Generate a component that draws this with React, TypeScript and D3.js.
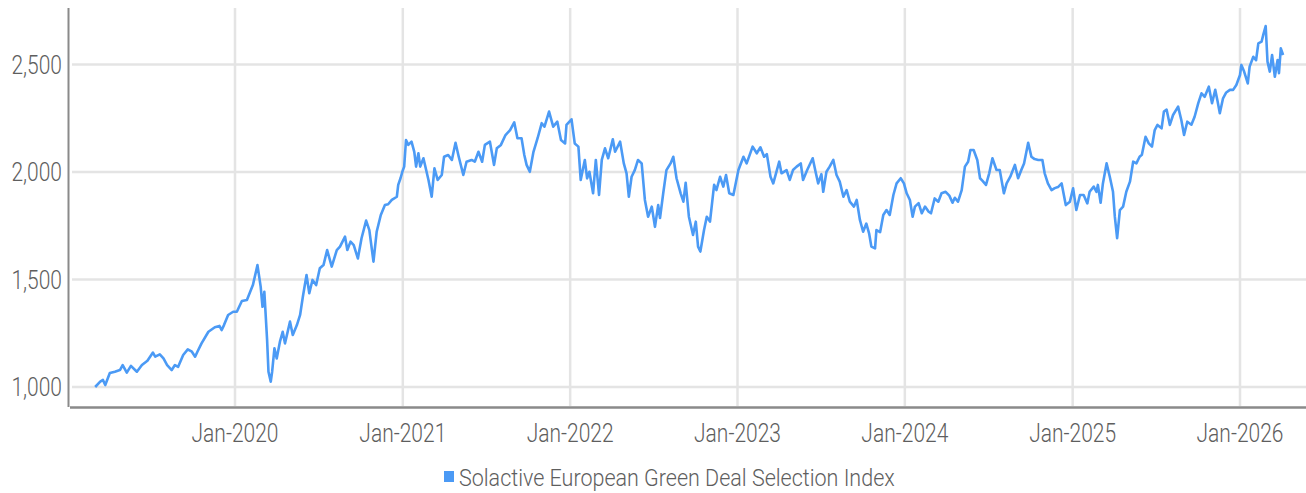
import React from "react";
import * as d3 from "d3";

// index level (roughly every 1-2 weeks)
const dates = [
  "2019-03-02", "2019-03-13", "2019-03-19", "2019-03-24", "2019-04-03", "2019-04-14", "2019-04-25", "2019-05-01",
  "2019-05-10", "2019-05-19", "2019-06-01", "2019-06-12", "2019-06-24", "2019-07-06", "2019-07-11", "2019-07-21",
  "2019-07-29", "2019-08-06", "2019-08-16", "2019-08-23", "2019-08-30", "2019-09-10", "2019-09-20", "2019-09-29",
  "2019-10-06", "2019-10-11", "2019-10-20", "2019-11-04", "2019-11-18", "2019-11-28", "2019-12-03", "2019-12-08",
  "2019-12-17", "2019-12-28", "2020-01-05", "2020-01-16", "2020-01-27", "2020-02-09", "2020-02-19", "2020-02-26",
  "2020-03-01", "2020-03-05", "2020-03-11", "2020-03-14", "2020-03-19", "2020-03-22", "2020-03-27", "2020-04-01",
  "2020-04-08", "2020-04-14", "2020-04-19", "2020-04-30", "2020-05-06", "2020-05-15", "2020-05-22", "2020-05-28",
  "2020-06-05", "2020-06-11", "2020-06-18", "2020-06-26", "2020-07-04", "2020-07-12", "2020-07-20", "2020-07-30",
  "2020-08-10", "2020-08-17", "2020-08-28", "2020-09-02", "2020-09-09", "2020-09-16", "2020-09-25", "2020-10-03",
  "2020-10-13", "2020-10-20", "2020-10-29", "2020-11-05", "2020-11-14", "2020-11-23", "2020-11-30", "2020-12-08",
  "2020-12-19", "2020-12-22", "2020-12-27", "2020-12-31", "2021-01-04", "2021-01-08", "2021-01-13", "2021-01-20",
  "2021-01-26", "2021-01-30", "2021-02-04", "2021-02-08", "2021-02-15", "2021-02-26", "2021-03-05", "2021-03-11",
  "2021-03-18", "2021-03-27", "2021-04-01", "2021-04-10", "2021-04-18", "2021-04-26", "2021-05-03", "2021-05-13",
  "2021-05-20", "2021-05-31", "2021-06-07", "2021-06-15", "2021-06-23", "2021-06-29", "2021-07-10", "2021-07-19",
  "2021-07-25", "2021-08-03", "2021-08-13", "2021-08-23", "2021-09-01", "2021-09-08", "2021-09-17", "2021-09-23",
  "2021-09-28", "2021-10-05", "2021-10-13", "2021-10-22", "2021-10-31", "2021-11-06", "2021-11-16", "2021-11-25",
  "2021-12-04", "2021-12-12", "2021-12-21", "2021-12-24", "2022-01-04", "2022-01-11", "2022-01-19", "2022-01-24",
  "2022-02-02", "2022-02-07", "2022-02-12", "2022-02-20", "2022-02-26", "2022-03-05", "2022-03-11", "2022-03-18",
  "2022-03-25", "2022-04-04", "2022-04-09", "2022-04-20", "2022-04-28", "2022-05-04", "2022-05-09", "2022-05-15",
  "2022-05-22", "2022-05-29", "2022-06-06", "2022-06-13", "2022-06-20", "2022-06-28", "2022-07-05", "2022-07-12",
  "2022-07-16", "2022-07-23", "2022-07-30", "2022-08-08", "2022-08-14", "2022-08-21", "2022-08-30", "2022-09-05",
  "2022-09-10", "2022-09-17", "2022-09-26", "2022-10-02", "2022-10-07", "2022-10-12", "2022-10-20", "2022-10-26",
  "2022-11-02", "2022-11-11", "2022-11-16", "2022-11-24", "2022-12-01", "2022-12-07", "2022-12-14", "2022-12-23",
  "2023-01-03", "2023-01-14", "2023-01-21", "2023-02-03", "2023-02-12", "2023-02-20", "2023-02-28", "2023-03-06",
  "2023-03-14", "2023-03-20", "2023-03-26", "2023-04-02", "2023-04-07", "2023-04-18", "2023-04-25", "2023-05-02",
  "2023-05-10", "2023-05-19", "2023-05-24", "2023-06-02", "2023-06-14", "2023-06-21", "2023-06-26", "2023-07-03",
  "2023-07-07", "2023-07-14", "2023-07-21", "2023-07-29", "2023-08-05", "2023-08-12", "2023-08-20", "2023-08-27",
  "2023-09-03", "2023-09-12", "2023-09-18", "2023-09-25", "2023-10-02", "2023-10-09", "2023-10-15", "2023-10-20",
  "2023-10-28", "2023-10-31", "2023-11-08", "2023-11-15", "2023-11-22", "2023-11-29", "2023-12-07", "2023-12-14",
  "2023-12-23", "2023-12-30", "2024-01-05", "2024-01-12", "2024-01-18", "2024-01-23", "2024-01-31", "2024-02-07",
  "2024-02-14", "2024-02-22", "2024-02-27", "2024-03-06", "2024-03-14", "2024-03-21", "2024-03-30", "2024-04-07",
  "2024-04-14", "2024-04-19", "2024-04-26", "2024-05-04", "2024-05-11", "2024-05-18", "2024-05-23", "2024-05-30",
  "2024-06-07", "2024-06-13", "2024-06-18", "2024-06-26", "2024-07-03", "2024-07-10", "2024-07-19", "2024-07-26",
  "2024-08-04", "2024-08-10", "2024-08-18", "2024-08-28", "2024-09-04", "2024-09-11", "2024-09-17", "2024-09-26",
  "2024-10-03", "2024-10-10", "2024-10-18", "2024-10-27", "2024-11-01", "2024-11-08", "2024-11-16", "2024-11-23",
  "2024-11-30", "2024-12-08", "2024-12-17", "2024-12-26", "2025-01-02", "2025-01-09", "2025-01-17", "2025-01-25",
  "2025-02-02", "2025-02-07", "2025-02-16", "2025-02-22", "2025-02-25", "2025-03-03", "2025-03-08", "2025-03-16",
  "2025-03-23", "2025-03-30", "2025-04-03", "2025-04-08", "2025-04-14", "2025-04-21", "2025-04-28", "2025-05-06",
  "2025-05-13", "2025-05-20", "2025-05-27", "2025-06-01", "2025-06-09", "2025-06-16", "2025-06-23", "2025-06-29",
  "2025-07-05", "2025-07-14", "2025-07-19", "2025-07-25", "2025-08-01", "2025-08-08", "2025-08-19", "2025-08-26",
  "2025-09-01", "2025-09-08", "2025-09-17", "2025-09-24", "2025-10-02", "2025-10-09", "2025-10-16", "2025-10-25",
  "2025-11-01", "2025-11-08", "2025-11-13", "2025-11-18", "2025-11-25", "2025-12-02", "2025-12-10", "2025-12-17",
  "2025-12-24", "2026-01-01", "2026-01-04", "2026-01-10", "2026-01-18", "2026-01-22", "2026-01-30", "2026-02-05",
  "2026-02-10", "2026-02-17", "2026-02-21", "2026-02-26", "2026-03-02", "2026-03-07", "2026-03-12", "2026-03-18",
  "2026-03-24", "2026-03-27", "2026-03-31", "2026-04-05",
];

const indexValues = [
  1000, 1025, 1033, 1009, 1065, 1071, 1079, 1102,
  1067, 1098, 1071, 1102, 1122, 1160, 1141, 1152,
  1133, 1102, 1079, 1102, 1094, 1149, 1175, 1164,
  1141, 1164, 1203, 1257, 1278, 1284, 1265, 1288,
  1335, 1350, 1350, 1400, 1405, 1474, 1567, 1467,
  1373, 1443, 1219, 1071, 1025, 1071, 1180, 1133,
  1211, 1257, 1203, 1304, 1242, 1288, 1335, 1420,
  1521, 1436, 1498, 1474, 1552, 1567, 1637, 1560,
  1637, 1653, 1699, 1637, 1676, 1660, 1598, 1692,
  1774, 1730, 1583, 1722, 1800, 1846, 1850, 1870,
  1885, 1940, 1971, 2001, 2025, 2149, 2126, 2141,
  2094, 2025, 2087, 2025, 2064, 1963, 1885, 2017,
  1963, 1986, 2071, 2079, 2056, 2136, 2071, 1986,
  2048, 2056, 2048, 2094, 2048, 2126, 2141, 2033,
  2110, 2126, 2172, 2195, 2231, 2157, 2157, 2079,
  2033, 2001, 2094, 2157, 2227, 2211, 2281, 2211,
  2234, 2149, 2133, 2219, 2245, 2133, 2118, 1963,
  2056, 1970, 2001, 1901, 2056, 1893, 2056, 2110,
  2064, 2152, 2094, 2141, 2040, 1994, 1885, 1978,
  2009, 2056, 2040, 1870, 1792, 1839, 1745, 1846,
  1786, 1901, 2009, 2040, 2071, 1971, 1901, 1862,
  1950, 1792, 1707, 1769, 1653, 1630, 1730, 1792,
  1769, 1940, 1916, 1978, 1932, 1986, 1901, 1893,
  2009, 2071, 2040, 2118, 2087, 2115, 2071, 2083,
  1978, 1947, 1994, 2048, 1994, 2009, 1963, 2009,
  2025, 2040, 1963, 2009, 2064, 1994, 1947, 1990,
  1908, 2001, 2025, 2056, 1986, 1955, 1885, 1916,
  1862, 1839, 1870, 1777, 1722, 1760, 1715, 1653,
  1645, 1730, 1720, 1800, 1823, 1800, 1893, 1947,
  1971, 1947, 1901, 1870, 1792, 1839, 1855, 1808,
  1839, 1815, 1808, 1877, 1862, 1901, 1908, 1890,
  1857, 1880, 1862, 1916, 2025, 2048, 2102, 2102,
  2056, 1971, 1960, 1940, 1994, 2064, 2009, 2009,
  1901, 1947, 1978, 2033, 1971, 2009, 2040, 2136,
  2071, 2060, 2056, 2056, 1994, 1947, 1916, 1925,
  1930, 1947, 1846, 1862, 1924, 1823, 1893, 1893,
  1854, 1908, 1932, 1908, 1940, 1857, 1947, 2040,
  1978, 1908, 1792, 1692, 1823, 1839, 1908, 1955,
  2048, 2040, 2071, 2080, 2164, 2133, 2118, 2195,
  2219, 2203, 2281, 2290, 2219, 2265, 2304, 2242,
  2172, 2234, 2220, 2257, 2320, 2366, 2350, 2397,
  2320, 2382, 2330, 2273, 2343, 2370, 2382, 2382,
  2405, 2451, 2498, 2467, 2412, 2490, 2536, 2520,
  2598, 2606, 2640, 2679, 2513, 2467, 2544, 2443,
  2521, 2460, 2575, 2544,
];

const yTicks = [1000, 1500, 2000, 2500];
const xTickYears = [2020, 2021, 2022, 2023, 2024, 2025, 2026];
const seriesName = "Solactive European Green Deal Selection Index";

const WIDTH = 1306;
const HEIGHT = 493;
const PLOT = { left: 69, right: 1306, top: 8, bottom: 407 };
const LINE_COLOR = "#4b9af5";
const GRID_COLOR = "#e4e4e4";
const AXIS_COLOR = "#8a8a8a";
const TEXT_COLOR = "#5e5e5e";
const FONT = "Roboto, 'DejaVu Sans', sans-serif";
const SQUEEZE = 0.84; // the original uses a condensed face

export default function App() {
  const parse = d3.utcParse("%Y-%m-%d");
  const points = dates.map((d, i) => [parse(d) as Date, indexValues[i]] as [Date, number]);

  const x = d3
    .scaleUtc()
    .domain([new Date(Date.UTC(2020, 0, 1)), new Date(Date.UTC(2026, 0, 1))])
    .range([235, 1240]);
  const y = d3.scaleLinear().domain([1000, 2500]).range([387, 64.5]);

  const lineGen = d3
    .line<[Date, number]>()
    .x((d) => x(d[0]))
    .y((d) => y(d[1]));

  const fmt = d3.format(",");
  const monthFmt = d3.utcFormat("%b-%Y");
  const xTicks = xTickYears.map((yr) => new Date(Date.UTC(yr, 0, 1)));

  return (
    <div style={{ position: "absolute", left: 0, top: 0 }}>
      <svg width={WIDTH} height={HEIGHT} style={{ display: "block", background: "#fff" }}>
        {/* grid */}
        <g>
          {yTicks.map((t) => (
            <line
              key={"gy" + t}
              x1={PLOT.left + 3}
              x2={PLOT.right}
              y1={y(t)}
              y2={y(t)}
              stroke={GRID_COLOR}
              strokeWidth={2.5}
            />
          ))}
          {xTicks.map((t) => (
            <line
              key={"gx" + t.getTime()}
              x1={x(t)}
              x2={x(t)}
              y1={PLOT.top}
              y2={PLOT.bottom - 1}
              stroke={GRID_COLOR}
              strokeWidth={2.5}
            />
          ))}
        </g>

        {/* axes */}
        <line x1={68.5} x2={68.5} y1={PLOT.top} y2={PLOT.bottom} stroke={AXIS_COLOR} strokeWidth={2} />
        <line x1={70} x2={PLOT.right} y1={407.5} y2={407.5} stroke={AXIS_COLOR} strokeWidth={2.5} />

        {/* tick labels */}
        <g fontFamily={FONT} fontWeight={300} fontSize={25} fill={TEXT_COLOR}>
          {yTicks.map((t) => (
            <text
              key={"ly" + t}
              transform={`translate(62,${y(t) + 9}) scale(${SQUEEZE},1)`}
              textAnchor="end"
            >
              {fmt(t)}
            </text>
          ))}
          {xTicks.map((t) => (
            <text
              key={"lx" + t.getTime()}
              transform={`translate(${x(t)},442) scale(${SQUEEZE},1)`}
              textAnchor="middle"
            >
              {monthFmt(t)}
            </text>
          ))}
        </g>

        {/* series */}
        <path
          d={lineGen(points) ?? ""}
          fill="none"
          stroke={LINE_COLOR}
          strokeWidth={2.6}
          strokeLinejoin="round"
        />

        {/* legend */}
        <g>
          <rect x={444} y={471} width={10} height={11} fill={LINE_COLOR} />
          <text
            transform={`translate(459,486) scale(0.915,1)`}
            fontFamily={FONT}
            fontWeight={300}
            fontSize={23.5}
            fill={TEXT_COLOR}
          >
            {seriesName}
          </text>
        </g>
      </svg>
    </div>
  );
}
